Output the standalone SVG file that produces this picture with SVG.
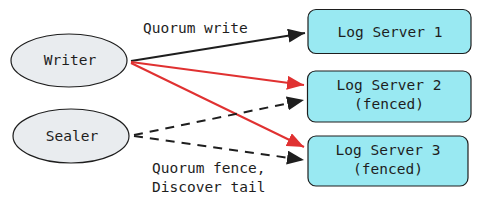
<svg xmlns="http://www.w3.org/2000/svg" width="480" height="206" viewBox="0 0 480 206">
<style>
  text { font-family: "DejaVu Sans Mono", "Liberation Mono", monospace; font-size: 14.5px; fill: #1e1e1e; }
  .c { text-anchor: middle; dominant-baseline: central; }
  .actor { fill: #e9ecef; stroke: #1e1e1e; stroke-width: 1.2; }
  .server { fill: #99e9f2; stroke: #1e1e1e; stroke-width: 1.2; }
  .blk { stroke: #1e1e1e; stroke-width: 2; fill: none; }
  .red { stroke: #e03131; stroke-width: 2; fill: none; }
  .dash { stroke-dasharray: 9 7; }
</style>
<defs>
  <marker id="ab" markerUnits="userSpaceOnUse" markerWidth="17" markerHeight="14" refX="17" refY="7" orient="auto">
    <path d="M0,0 L17,7 L0,14 z" fill="#1e1e1e"/>
  </marker>
  <marker id="ar" markerUnits="userSpaceOnUse" markerWidth="17" markerHeight="14" refX="17" refY="7" orient="auto">
    <path d="M0,0 L17,7 L0,14 z" fill="#e03131"/>
  </marker>
</defs>
<g id="connectors">
  <line class="blk" x1="131" y1="61" x2="305" y2="33" marker-end="url(#ab)"/>
  <line class="red" x1="131" y1="62" x2="304" y2="85" marker-end="url(#ar)"/>
  <line class="red" x1="131" y1="63" x2="304" y2="147" marker-end="url(#ar)"/>
  <line class="blk dash" x1="134" y1="135" x2="304" y2="100" marker-end="url(#ab)"/>
  <line class="blk dash" x1="134" y1="136" x2="304" y2="160" marker-end="url(#ab)"/>
  <text x="143" y="33">Quorum write</text>
  <text x="152" y="173">Quorum fence,</text>
  <text x="152" y="192">Discover tail</text>
</g>
<g id="writer">
  <ellipse class="actor" cx="69" cy="60.5" rx="58" ry="26.5"/>
  <text class="c" x="70" y="60">Writer</text>
</g>
<g id="sealer">
  <ellipse class="actor" cx="71" cy="136" rx="58" ry="27"/>
  <text class="c" x="72" y="136">Sealer</text>
</g>
<g id="ls1">
  <rect class="server" x="308" y="9.5" width="163" height="44" rx="8"/>
  <text class="c" x="390" y="32">Log Server 1</text>
</g>
<g id="ls2">
  <rect class="server" x="307.5" y="71" width="163.5" height="51" rx="8"/>
  <text class="c" x="389" y="85">Log Server 2</text>
  <text class="c" x="389" y="104">(fenced)</text>
</g>
<g id="ls3">
  <rect class="server" x="308" y="136" width="160" height="50" rx="8"/>
  <text class="c" x="388" y="150">Log Server 3</text>
  <text class="c" x="388" y="169">(fenced)</text>
</g>
</svg>
